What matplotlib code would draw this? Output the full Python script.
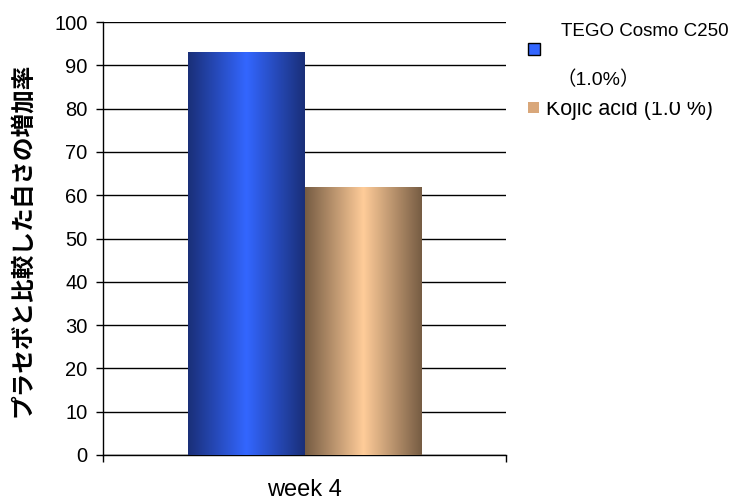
import numpy as np
import matplotlib
matplotlib.use("Agg")
import matplotlib.pyplot as plt
import matplotlib.transforms as mtransforms
from matplotlib.colors import LinearSegmentedColormap

# Data
categories = ["week 4"]
series_names = ["TEGO Cosmo C250", "Kojic acid (1.0 %)"]
series_values = [[93.0], [61.8]]
y_ticks = [0, 10, 20, 30, 40, 50, 60, 70, 80, 90, 100]
y_label = "プラセボと比較した白さの増加率"

# gradient colours: (edge, centre)
GRADIENTS = [
    ("#1a2f78", "#3366ff"),
    ("#765c43", "#ffcc99"),
]

plt.rcParams["font.family"] = ["Liberation Sans", "DejaVu Sans"]
MIXED = ["Liberation Sans", "Noto Sans CJK JP", "DejaVu Sans"]

fig = plt.figure(figsize=(7.37, 5.01), dpi=100)
ax = fig.add_axes([103 / 737, 1 - 455 / 501, 403 / 737, 433 / 501])

n = len(series_values)
width = 0.288
x = np.arange(len(categories))

for i, (vals, (edge, centre)) in enumerate(zip(series_values, GRADIENTS)):
    offset = (i - (n - 1) / 2) * width
    bars = ax.bar(x + offset, vals, width, color="none", edgecolor="none", zorder=3)
    cmap = LinearSegmentedColormap.from_list(f"g{i}", [edge, centre, edge])
    grad = np.linspace(0, 1, 256).reshape(1, -1)
    for bar in bars:
        x0 = bar.get_x()
        im = ax.imshow(grad, cmap=cmap, aspect="auto", zorder=3,
                       extent=(x0, x0 + bar.get_width(), 0, bar.get_height()))
        im.set_clip_path(bar)

ax.set_xlim(-0.5, 0.5)
ax.set_ylim(0, 100)
ax.set_yticks(y_ticks)
ax.set_yticklabels([str(t) for t in y_ticks], fontsize=14.5)
ax.yaxis.grid(True, color="black", linewidth=1.0)
ax.set_axisbelow(True)
ax.tick_params(axis="y", direction="out", length=5, width=1, pad=6)

ax.set_xticks([-0.5, 0.5])
ax.set_xticklabels(["", ""])
ax.tick_params(axis="x", direction="out", length=5, width=1)
ax.text(0, 1 - 490 / 501, categories[0],
        transform=mtransforms.blended_transform_factory(ax.transData, fig.transFigure),
        ha="center", va="center", fontsize=17)

for side in ["top", "right"]:
    ax.spines[side].set_visible(False)
ax.spines["left"].set_linewidth(1)
ax.spines["bottom"].set_linewidth(1)

fig.text(22 / 737, 1 - 240 / 501, y_label, rotation=90, ha="center", va="center",
         fontsize=17, fontweight="bold", family=["Noto Sans CJK JP", "DejaVu Sans"])

# Legend drawn by hand to match the original layout
fig.patches.append(plt.Rectangle((528 / 737, 1 - 55 / 501), 12 / 737, 12 / 501,
                                 transform=fig.transFigure, facecolor="#3366ff",
                                 edgecolor="black", linewidth=1))
fig.text(561 / 737, 1 - 32 / 501, series_names[0], fontsize=13.5, va="center",
         family=MIXED)
fig.text(556 / 737, 1 - 80 / 501, "\uff081.0%\uff09", fontsize=14, va="center",
         family=MIXED)
fig.patches.append(plt.Rectangle((528 / 737, 1 - 113 / 501), 11 / 737, 11 / 501,
                                 transform=fig.transFigure, facecolor="#d9a77a",
                                 edgecolor="none"))
fig.text(546 / 737, 1 - 110 / 501, series_names[1], fontsize=15.5, va="center",
         zorder=3)
# the original clips the top of the second entry
fig.patches.append(plt.Rectangle((544 / 737, 1 - 102 / 501), 190 / 737, 9 / 501,
                                 transform=fig.transFigure, facecolor="white",
                                 edgecolor="none", zorder=6))

fig.savefig("out.png", dpi=100)
